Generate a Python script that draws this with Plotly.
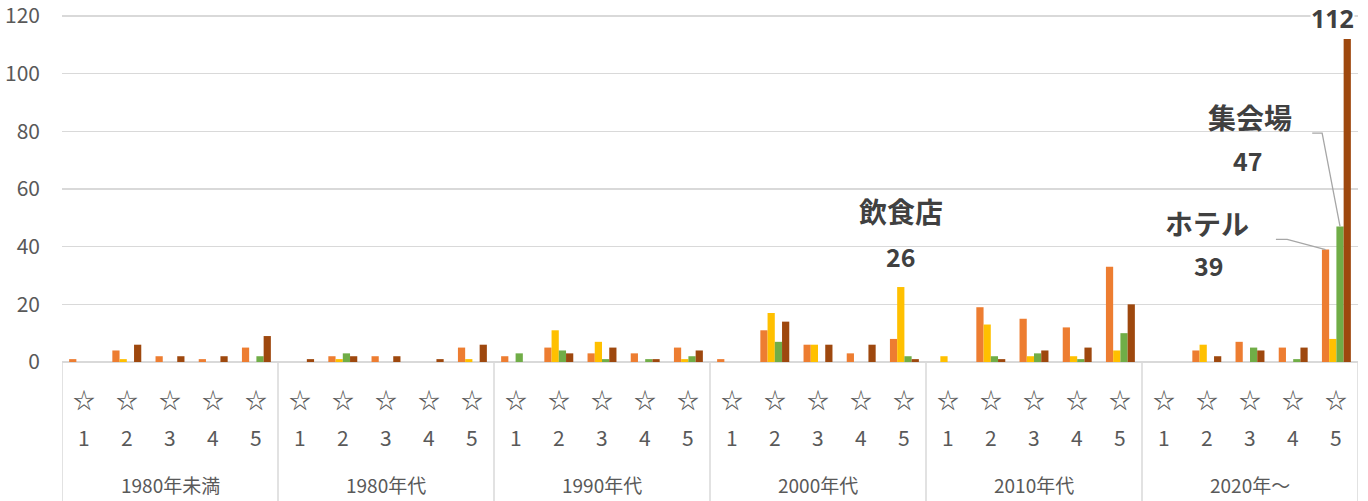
import plotly.graph_objects as go

groups = ["1980年未満", "1980年代", "1990年代", "2000年代", "2010年代", "2020年～"]
stars = ["1", "2", "3", "4", "5"]

hotel = [1, 4, 2, 1, 5,   0, 2, 2, 0, 5,   2, 5, 3, 3, 5,   1, 11, 6, 3, 8,   0, 19, 15, 12, 33,   0, 4, 7, 5, 39]
restaurant = [0, 1, 0, 0, 0,   0, 1, 0, 0, 1,   0, 11, 7, 0, 1,   0, 17, 6, 0, 26,   2, 13, 2, 2, 4,   0, 6, 0, 0, 8]
hall = [0, 0, 0, 0, 2,   0, 3, 0, 0, 0,   3, 4, 1, 1, 2,   0, 7, 0, 0, 2,   0, 2, 3, 1, 10,   0, 0, 5, 1, 47]
other = [0, 6, 2, 2, 9,   1, 2, 2, 1, 6,   0, 3, 5, 1, 4,   0, 14, 6, 6, 1,   0, 1, 4, 5, 20,   0, 2, 4, 5, 112]

series = [("ホテル", hotel, "#ED7D31"), ("飲食店", restaurant, "#FFC000"),
          ("集会場", hall, "#70AD47"), ("その他", other, "#9E480E")]

n = len(groups) * len(stars)
xs = list(range(n))
FONT = "Noto Sans CJK JP"
GRAY = "#595959"
DARK = "#404040"
YMAX = 120

fig = go.Figure()
for name, vals, col in series:
    fig.add_trace(go.Bar(x=xs, y=vals, name=name, marker=dict(color=col, line=dict(width=0)),
                         cliponaxis=False))

BARGAP = 0.33
bw = (1 - BARGAP) / 4

annotations = []
for i in xs:
    annotations.append(dict(x=i, y=-0.1034, xref="x", yref="paper", text="☆", showarrow=False,
                            font=dict(family=FONT, size=22, color=GRAY), yanchor="middle"))
    annotations.append(dict(x=i, y=-0.2155, xref="x", yref="paper", text=stars[i % 5], showarrow=False,
                            font=dict(family=FONT, size=21, color=GRAY), yanchor="middle"))
for g, name in enumerate(groups):
    annotations.append(dict(x=g * 5 + 2, y=-0.3534, xref="x", yref="paper", text=name, showarrow=False,
                            font=dict(family=FONT, size=19, color=GRAY), yanchor="middle"))

# data labels
last = n - 1
annotations += [
    dict(x=last - 0.1, y=0.9885, xref="x", yref="paper", text=f"<b>{other[last]}</b>", showarrow=False,
         font=dict(family="Noto Sans", size=25, color=DARK), yanchor="middle",
         bgcolor="white", borderpad=0),
    dict(x=last - 2.0, y=85, xref="x", yref="y", text="<b>集会場</b>", showarrow=False,
         font=dict(family=FONT, size=28, color=DARK)),
    dict(x=last - 2.05, y=70, xref="x", yref="y", text=f"<b>{hall[last]}</b>", showarrow=False,
         font=dict(family=FONT, size=25, color=DARK)),
    dict(x=last - 3.0, y=48.2, xref="x", yref="y", text="<b>ホテル</b>", showarrow=False,
         font=dict(family=FONT, size=28, color=DARK)),
    dict(x=last - 2.95, y=33.6, xref="x", yref="y", text=f"<b>{hotel[last]}</b>", showarrow=False,
         font=dict(family=FONT, size=25, color=DARK)),
    dict(x=19 - 0.5 * bw, y=52.4, xref="x", yref="y", text="<b>飲食店</b>", showarrow=False,
         font=dict(family=FONT, size=28, color=DARK)),
    dict(x=19 - 0.5 * bw, y=36.8, xref="x", yref="y", text=f"<b>{restaurant[19]}</b>", showarrow=False,
         font=dict(family=FONT, size=25, color=DARK)),
]

shapes = []
for k in range(len(groups) + 1):
    xv = k * 5 - 0.5
    shapes.append(dict(type="line", xref="x", yref="paper", x0=xv, x1=xv, y0=0, y1=-0.41,
                       line=dict(color="#D9D9D9", width=1.5)))
# leader lines
shapes.append(dict(type="path", xref="x", yref="y",
                   path=f"M {last - 0.56},{79.4} L {last - 0.33},{79.4} L {last + 0.5 * bw},{hall[last]}",
                   line=dict(color="#A6A6A6", width=1.3)))
shapes.append(dict(type="path", xref="x", yref="y",
                   path=f"M {last - 1.4},{42.5} L {last - 1.14},{42.5} L {last - 1.5 * bw},{hotel[last]}",
                   line=dict(color="#A6A6A6", width=1.3)))

fig.update_layout(
    width=1368, height=501,
    margin=dict(l=62, r=10, t=14, b=139, autoexpand=False),
    paper_bgcolor="white", plot_bgcolor="white",
    barmode="group", bargap=BARGAP, bargroupgap=0,
    showlegend=False,
    xaxis=dict(range=[-0.5, n - 0.5], showticklabels=False, showgrid=False, zeroline=False,
               showline=False, ticks="", fixedrange=True, automargin=False),
    yaxis=dict(range=[0, YMAX + 0.7], tickvals=[0, 20, 40, 60, 80, 100, 120], showgrid=True,
               gridcolor="#D9D9D9", gridwidth=1.5,
               zeroline=True, zerolinecolor="#D9D9D9", zerolinewidth=1.5, showline=False,
               tickfont=dict(family=FONT, size=21, color=GRAY), ticklabelstandoff=21,
               ticklabeloverflow="allow", automargin=False, fixedrange=True),
    annotations=annotations,
    shapes=shapes,
)

fig.write_html("out.html", config={"displayModeBar": False, "staticPlot": True},
               post_script="document.body.style.margin='0';document.body.style.overflow='hidden';")
